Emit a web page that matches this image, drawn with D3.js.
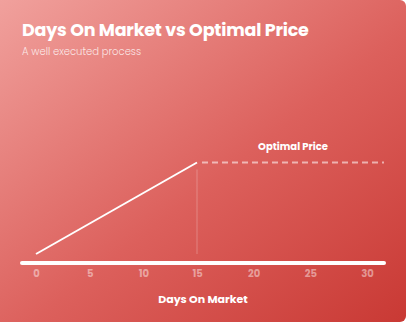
<!DOCTYPE html>
<html><head><meta charset="utf-8">
<script src="https://cdn.jsdelivr.net/npm/d3@7"></script>
<style>html,body{margin:0;padding:0;background:#fff;overflow:hidden}</style>
</head><body>
<svg id="c" width="406" height="322"></svg>
<script>
const title = "Days On Market vs Optimal Price";
const subtitle = "A well executed process";
const xTitle = "Days On Market";
const optimalLabel = "Optimal Price";
const tickValues = [0, 5, 10, 15, 20, 25, 30];
const days = [0, 15];
const price = [0, 100];
const optimalPrice = 100;
const optimalDay = 15;

const W = 406, H = 322;
const svg = d3.select("#c");
const defs = svg.append("defs");
const g = defs.append("linearGradient").attr("id","bg").attr("x1","0%").attr("y1","0%").attr("x2","100%").attr("y2","100%");
g.append("stop").attr("offset","0%").attr("stop-color","#f1a29e");
g.append("stop").attr("offset","55%").attr("stop-color","#dc605c");
g.append("stop").attr("offset","100%").attr("stop-color","#c93934");
svg.append("rect").attr("x",-10).attr("y",0).attr("width",W+10).attr("height",H).attr("rx",6).attr("fill","url(#bg)");

const font = "Poppins, Inter, 'Noto Sans', sans-serif";
svg.append("text").attr("x",22).attr("y",35.5).attr("fill","#fff").attr("font-family",font)
  .attr("font-weight",700).attr("font-size",17.5).attr("letter-spacing",-0.2).text(title);
svg.append("text").attr("x",22).attr("y",55).attr("fill","rgba(255,255,255,0.8)").attr("font-family",font)
  .attr("font-weight",300).attr("font-size",10).text(subtitle);

const x = d3.scaleLinear().domain([0, 15, 30]).range([36, 197, 367]);
const y = d3.scaleLinear().domain([0, 100]).range([254, 162.5]);

// axis baseline
svg.append("line").attr("x1",22).attr("x2",384).attr("y1",263).attr("y2",263)
  .attr("stroke","#fff").attr("stroke-width",4).attr("stroke-linecap","round");

const axis = d3.axisBottom(x).tickValues(tickValues).tickSize(0).tickPadding(0).tickFormat(d3.format("d"));
const ag = svg.append("g").attr("transform","translate(0,270)").call(axis);
ag.select(".domain").remove();
ag.selectAll("text").attr("fill","rgba(255,255,255,0.45)").attr("font-family",font)
  .attr("font-weight",700).attr("font-size",10).attr("dy","0.71em");

// vertical faint line
svg.append("line").attr("x1",x(optimalDay)).attr("x2",x(optimalDay)).attr("y1",y(optimalPrice)+7).attr("y2",y(0))
  .attr("stroke","rgba(255,255,255,0.25)").attr("stroke-width",1);

// dashed optimal
svg.append("line").attr("x1",x(optimalDay)+5).attr("x2",384).attr("y1",y(optimalPrice)).attr("y2",y(optimalPrice))
  .attr("stroke","rgba(255,255,255,0.55)").attr("stroke-width",2).attr("stroke-dasharray","6,4");

// main line
const line = d3.line().x((d,i)=>x(days[i])).y(d=>y(d));
svg.append("path").datum(price).attr("d",line).attr("fill","none").attr("stroke","#fff").attr("stroke-width",2);

svg.append("text").attr("x",293).attr("y",150).attr("text-anchor","middle").attr("fill","#fff")
  .attr("font-family",font).attr("font-weight",700).attr("font-size",10).text(optimalLabel);
svg.append("text").attr("x",203).attr("y",303).attr("text-anchor","middle").attr("fill","#fff")
  .attr("font-family",font).attr("font-weight",700).attr("font-size",11).text(xTitle);
</script>
</body></html>
